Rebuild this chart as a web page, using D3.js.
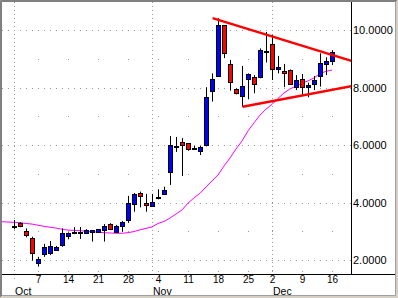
<!DOCTYPE html>
<html><head><meta charset="utf-8">
<script src="https://cdn.jsdelivr.net/npm/d3@7"></script>
<style>
body{margin:0;background:#d4d0c8}
svg{display:block}
text{font-family:"Liberation Sans",Arial,sans-serif;font-size:11px;fill:#000}
</style>
</head><body><svg id="c" width="398" height="298"></svg>
<script>
// ---- data ----
const preDates = ["2002-09-27","2002-09-30"];
const dates = [
 "2002-10-01","2002-10-02","2002-10-03","2002-10-04",
 "2002-10-07","2002-10-08","2002-10-09","2002-10-10","2002-10-11",
 "2002-10-14","2002-10-15","2002-10-16","2002-10-17","2002-10-18",
 "2002-10-21","2002-10-22","2002-10-23","2002-10-24","2002-10-25",
 "2002-10-28","2002-10-29","2002-10-30","2002-10-31","2002-11-01",
 "2002-11-04","2002-11-05","2002-11-06","2002-11-07","2002-11-08",
 "2002-11-11","2002-11-12","2002-11-13","2002-11-14","2002-11-15",
 "2002-11-18","2002-11-19","2002-11-20","2002-11-21","2002-11-22",
 "2002-11-25","2002-11-26","2002-11-27","2002-11-29",
 "2002-12-02","2002-12-03","2002-12-04","2002-12-05","2002-12-06",
 "2002-12-09","2002-12-10","2002-12-11","2002-12-12","2002-12-13",
 "2002-12-16"];
const open  = [3.20,3.28,3.02,2.75,1.89,2.21,2.23,2.37,2.52,2.83, 2.99,2.97,2.96,2.95,2.98,3.05,3.24,2.98,3.17,3.37, 3.95,4.34,3.97,3.89,4.20,4.29,5.05,5.98,6.09,6.06, 5.91,5.80,5.98,7.89,8.40,10.17,8.81,7.94,7.71,8.29, 8.35,8.35,9.28,9.51,8.63,8.57,8.61,8.01,8.30,8.01, 8.12,8.40,8.82,8.92];
const high  = [3.39,3.32,3.10,2.81,2.11,2.56,2.66,2.49,3.10,2.96, 3.14,3.15,3.07,3.04,3.08,3.25,3.28,3.22,3.36,4.23, 4.33,4.38,4.30,4.30,4.46,4.55,6.31,6.28,6.24,6.06, 5.97,5.97,8.01,8.49,10.41,10.17,8.96,7.97,8.75,8.49, 8.43,9.36,9.93,9.83,9.10,8.82,8.63,8.43,8.47,8.17, 8.40,9.19,9.05,9.30];
const low   = [3.07,3.14,2.79,1.98,1.77,2.11,2.17,2.36,2.46,2.72, 2.90,2.73,2.94,2.64,2.96,2.64,3.04,2.96,2.98,3.29, 3.68,3.83,3.68,3.85,4.11,4.26,4.61,5.76,4.92,5.80, 5.86,5.65,5.95,7.51,8.40,9.02,7.89,7.76,7.33,7.59, 7.80,8.32,8.87,8.26,8.49,8.01,8.09,7.91,7.70,7.66, 7.91,8.03,8.43,8.78];
const close = [3.20,3.18,2.88,2.23,2.02,2.46,2.49,2.46,2.93,2.93, 2.99,2.97,3.05,3.03,3.07,3.18,3.06,3.18,3.31,3.97, 4.30,4.25,3.89,4.02,4.20,4.43,6.00,5.98,5.98,5.85, 5.91,5.94,7.66,8.29,10.17,9.19,8.20,7.80,8.05,8.47, 8.12,9.30,9.28,8.63,8.70,8.49,8.12,8.26,8.01,8.09, 8.26,8.84,8.92,9.22];
// moving average, starting at preDates
const maValues = [3.33,3.32,3.31,3.30,3.27,3.25,3.21,3.17,3.14,3.11,3.07,3.04,3.03,3.02,3.00,2.98,2.97,2.95,2.94,2.93,2.93,2.95,2.99,3.05,3.10,3.15,3.27,3.34,3.46,3.60,3.74,3.98,4.16,4.32,4.54,4.75,4.96,5.27,5.55,5.86,6.14,6.49,6.77,7.04,7.25,7.41,7.62,7.81,7.95,8.05,8.15,8.23,8.33,8.49,8.56,8.61];
// trend lines: [trading-day offset from first date, price]
const trendUpper = [[33.1,10.41],[56.3,8.92]];
const trendLower = [[38.1,7.33],[56.3,8.05]];
const yTicks = [2,4,6,8,10];
const yMinorTicks = [3,5,7,9];
const weekTicks = ["2002-10-07","2002-10-14","2002-10-21","2002-10-28","2002-11-04","2002-11-11","2002-11-18","2002-11-25","2002-12-02","2002-12-09","2002-12-16"];
const weekLabels = ["7","14","21","28","4","11","18","25","2","9","16"];
const monthTicks = ["2002-10-01","2002-11-01","2002-12-02"];
const monthLabels = ["Oct","Nov","Dec"];

// ---- layout ----
const W=398,H=298, L=2, T=2, R=351, B=274;
const svg=d3.select("#c");
const xi=d3.scaleLinear().domain([0,dates.length-1]).range([14,332]);
const xd=d=>xi(dates.indexOf(d));
const y=d3.scaleLinear().domain([2,10]).range([260,30]);
const FONT='"Liberation Sans",Arial,sans-serif';

// frame
svg.append("rect").attr("x",0).attr("y",0).attr("width",W).attr("height",H).attr("fill","#d4d0c8");
svg.append("rect").attr("x",2).attr("y",2).attr("width",393).attr("height",293).attr("fill","#fff");
svg.append("path").attr("d","M0.5,297V0.5H397").attr("stroke","#808080").attr("fill","none");
svg.append("path").attr("d","M1.5,296V1.5H396").attr("stroke","#808080").attr("fill","none");
svg.append("path").attr("d","M395.5,2V295.5H2").attr("stroke","#a0a0a0").attr("fill","none");

svg.append("defs").append("clipPath").attr("id","pc").append("rect")
  .attr("x",L).attr("y",T).attr("width",R-L).attr("height",B-T);

const grid=svg.append("g");
// major horizontal grid
grid.selectAll("line.h").data(yTicks).join("line")
  .attr("x1",L).attr("x2",R).attr("y1",d=>Math.round(y(d))+0.5).attr("y2",d=>Math.round(y(d))+0.5)
  .attr("stroke","#9a9a9a").attr("stroke-dasharray","1,5");
// minor horizontal: dots at week positions
yMinorTicks.forEach(v=>{
  grid.selectAll(null).data(weekTicks).join("rect")
   .attr("x",d=>Math.round(xd(d))).attr("y",Math.round(y(v))).attr("width",1).attr("height",1).attr("fill","#9a9a9a");
});
// week tick dots near axis
grid.selectAll("rect.wk").data(weekTicks).join("rect")
  .attr("x",d=>Math.round(xd(d))).attr("y",B-3).attr("width",1).attr("height",1).attr("fill","#9a9a9a");
// month verticals
grid.selectAll("line.m").data(monthTicks).join("line")
  .attr("x1",d=>Math.round(xd(d))+0.5).attr("x2",d=>Math.round(xd(d))+0.5)
  .attr("y1",T).attr("y2",B+5).attr("stroke","#9a9a9a").attr("stroke-dasharray","1,3");

const plot=svg.append("g").attr("clip-path","url(#pc)");

// moving average
const maPts=maValues.map((v,k)=>[xi(k-preDates.length),y(v)]);
plot.append("path").attr("d",d3.line()(maPts)).attr("fill","none").attr("stroke","#ff00ff").attr("stroke-width",1);

// candles
const candles=plot.selectAll("g.c").data(dates.map((d,i)=>({d,o:open[i],h:high[i],l:low[i],c:close[i]}))).join("g");
candles.append("line")
  .attr("x1",d=>Math.round(xd(d.d))+0.5).attr("x2",d=>Math.round(xd(d.d))+0.5)
  .attr("y1",d=>y(d.h)).attr("y2",d=>y(d.l)).attr("stroke","#000");
candles.append("rect")
  .attr("x",d=>Math.round(xd(d.d))-1.5).attr("width",4)
  .attr("y",d=>Math.round(Math.min(y(d.o),y(d.c)))+0.5)
  .attr("height",d=>Math.max(1,Math.round(Math.abs(y(d.o)-y(d.c)))))
  .attr("fill",d=>d.c>d.o?"#0000ff":(d.c<d.o?"#ff0000":"#000"))
  .attr("stroke","#000");

// trend lines
[trendUpper,trendLower].forEach(t=>{
  plot.append("path").attr("d",d3.line()(t.map(p=>[xi(p[0]),y(p[1])])))
   .attr("stroke","#ff0000").attr("stroke-width",2.4).attr("fill","none");
});

// axes lines
svg.append("line").attr("x1",L).attr("x2",395).attr("y1",B+0.5).attr("y2",B+0.5).attr("stroke","#000");
svg.append("line").attr("x1",R+0.5).attr("x2",R+0.5).attr("y1",T).attr("y2",B).attr("stroke","#000");

// right axis
const ya=svg.append("g").attr("transform",`translate(${R+1},0)`)
  .call(d3.axisRight(y).tickValues(yTicks).tickSize(0).tickPadding(1).tickFormat(d3.format(".4f")));
ya.select(".domain").remove();
ya.selectAll("text").style("font-family",FONT).style("font-size","11px").attr("fill","#000");

// bottom axis: day labels
const xa=svg.append("g").attr("transform",`translate(0,${B})`)
  .call(d3.axisBottom(xi).tickValues(weekTicks.map(d=>dates.indexOf(d))).tickSize(0).tickPadding(1.6)
    .tickFormat((d,i)=>weekLabels[i]));
xa.select(".domain").remove();
xa.selectAll("text").style("font-family",FONT).style("font-size","10px").attr("fill","#000");

// month labels
svg.selectAll("text.mon").data(monthTicks).join("text").attr("class","mon")
  .attr("x",d=>Math.round(xd(d))+1).attr("y",294.5)
  .style("font-family",FONT).style("font-size","10.5px").text((d,i)=>monthLabels[i]);
</script>
</body></html>
